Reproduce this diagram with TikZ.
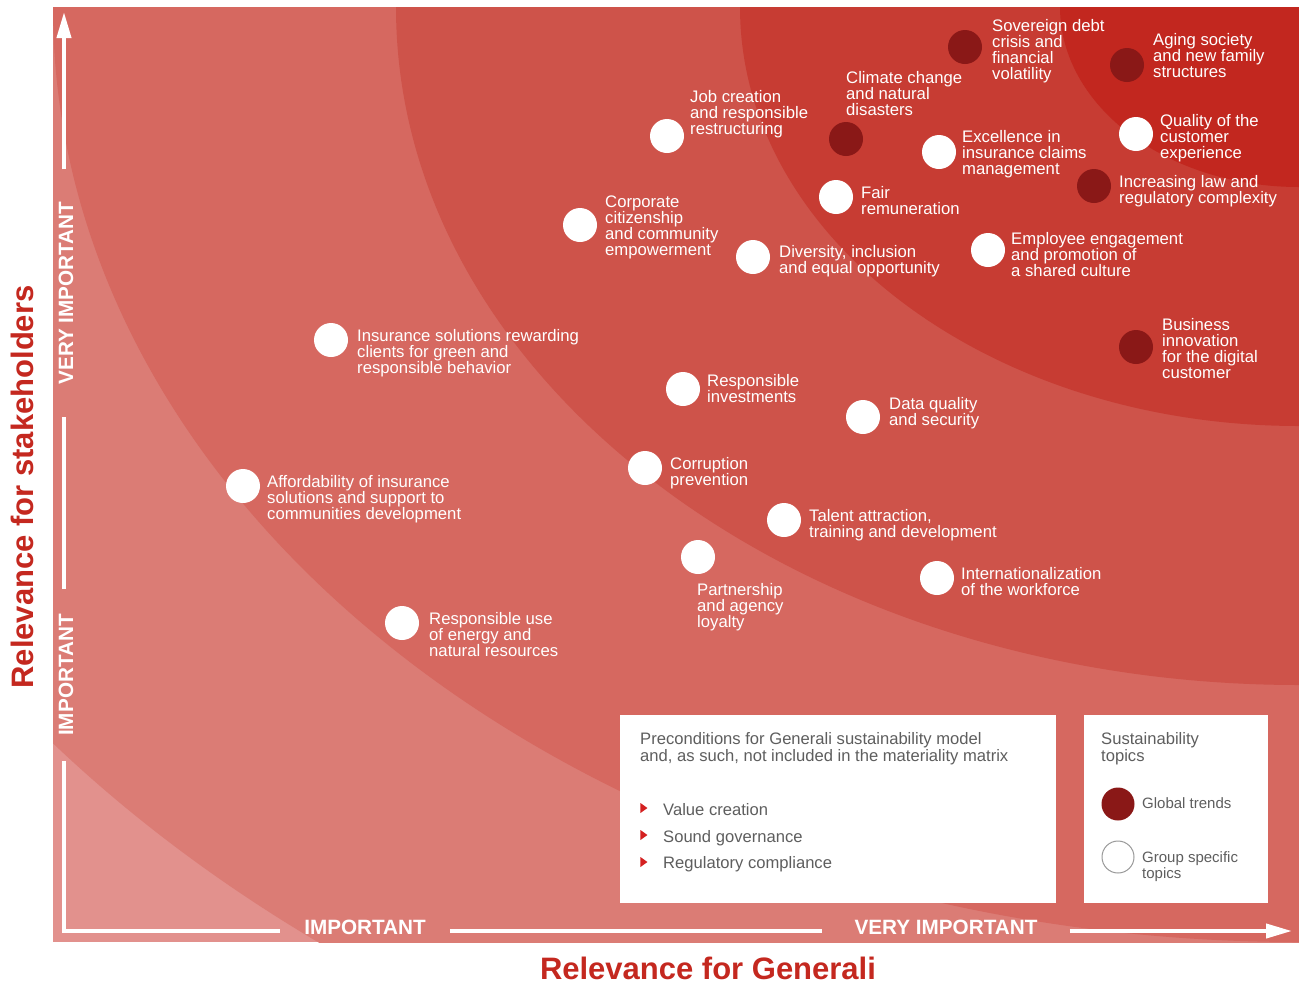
\documentclass[tikz,border=0pt]{standalone}
\usepackage{fontspec}
\setmainfont{Liberation Sans}
\usepackage{xcolor}
\usetikzlibrary{
    arrows.meta,
    shapes.geometric,
    positioning
}
\definecolor{band0}{HTML}{E2918D}
\definecolor{band1}{HTML}{DB7C75}
\definecolor{band2}{HTML}{D66860}
\definecolor{band3}{HTML}{CE534A}
\definecolor{band4}{HTML}{C73C33}
\definecolor{band5}{HTML}{C2271F}
\definecolor{trenddark}{HTML}{8A1817}
\definecolor{titlered}{HTML}{C4281F}
\definecolor{legendgray}{HTML}{5E5E5E}
\definecolor{bulletred}{HTML}{D42020}

\begin{document}
\begin{tikzpicture}[x=1pt, y=-1pt,
    topic/.style={circle, fill=white, minimum size=34pt, inner sep=0pt},
    trend/.style={topic, fill=trenddark},
    lbl/.style={text=white, align=left, inner sep=0pt, anchor=base west,
        font=\fontsize{16.7}{16}\selectfont},
    axis/.style={white, line width=4pt},
    tip/.style={-{Triangle[length=26pt, width=14pt]}},
    axlbl/.style={text=white, inner sep=0pt, font=\fontsize{20.7}{24}\selectfont\bfseries},
    title/.style={text=titlered, inner sep=0pt, font=\fontsize{31}{36}\selectfont\bfseries},
    box/.style={fill=white, inner sep=0pt, anchor=north west},
    boxtxt/.style={text=legendgray, align=left, inner sep=0pt, anchor=base west,
        font=\fontsize{16.6}{17}\selectfont},
    bullet/.style={isosceles triangle, isosceles triangle stretches, fill=bulletred,
        minimum width=10pt, minimum height=7pt, inner sep=0pt}]
    \useasboundingbox (0,0) rectangle (1299,986);

    % bands of relevance
    \fill[band0] (53,7) rectangle (1299,942);
    \begin{scope}
        \clip (53,7) rectangle (1299,942);
        \fill[band1] (1299,7) ellipse [x radius=1586, y radius=1190];
        \fill[band2] (1299,7) ellipse [x radius=1246, y radius=935];
        \fill[band3] (1299,7) ellipse [x radius=903, y radius=678];
        \fill[band4] (1299,7) ellipse [x radius=559, y radius=419];
        \fill[band5] (1299,7) ellipse [x radius=239, y radius=180];
    \end{scope}

    % axes
    \coordinate (o) at (64,931);
    \coordinate (ytop) at (64,12);
    \coordinate (xend) at (1292,931);
    \node[axlbl, inner xsep=24pt] (ximp) at (365,927) {IMPORTANT};
    \node[axlbl, inner xsep=32pt] (xvimp) at (946,927) {VERY IMPORTANT};
    \node[axlbl, inner xsep=25pt, rotate=90] (yimp) at (66,675) {IMPORTANT};
    \node[axlbl, inner xsep=32pt, rotate=90] (yvimp) at (66,293) {VERY IMPORTANT};
    \draw[axis] (o |- yimp.west) -- (o) -- (ximp.west |- o);
    \draw[axis] (ximp.east |- o) -- (xvimp.west |- o);
    \draw[axis, tip] (xvimp.east |- o) -- (xend);
    \draw[axis] (o |- yimp.east) -- (o |- yvimp.west);
    \draw[axis, tip] (o |- yvimp.east) -- (ytop);

    \node[title] (xtitle) at (708,968) {Relevance for Generali};
    \node[title, rotate=90] (ytitle) at (22,487) {Relevance for stakeholders};

    % topics (labels sit on the baseline of their last line)
    \node[trend] (sov) at (965,47) {};
    \node[lbl] at (992,79) {Sovereign debt\\crisis and\\financial\\volatility};
    \node[trend] (aging) at (1127,65) {};
    \node[lbl] at (1153,77) {Aging society\\and new family\\structures};
    \node[trend] (climate) at (846,139) {};
    \node[lbl] at (846,115) {Climate change\\and natural\\disasters};
    \node[topic] (job) at (667,136) {};
    \node[lbl] at (690,134) {Job creation\\and responsible\\restructuring};
    \node[topic] (claims) at (939,152) {};
    \node[lbl] at (962,174) {Excellence in\\insurance claims\\management};
    \node[topic] (quality) at (1136,134) {};
    \node[lbl] at (1160,158) {Quality of the\\customer\\experience};
    \node[trend] (law) at (1094,186) {};
    \node[lbl] at (1119,203) {Increasing law and\\regulatory complexity};
    \node[topic] (fair) at (836,197) {};
    \node[lbl] at (861,214) {Fair\\remuneration};
    \node[topic] (corp) at (580,225) {};
    \node[lbl] at (605,255) {Corporate\\citizenship\\and community\\empowerment};
    \node[topic] (divers) at (753,257) {};
    \node[lbl] at (779,273) {Diversity, inclusion\\and equal opportunity};
    \node[topic] (engage) at (988,250) {};
    \node[lbl] at (1011,276) {Employee engagement\\and promotion of\\a shared culture};
    \node[trend] (digital) at (1136,347) {};
    \node[lbl] at (1162,378) {Business\\innovation\\for the digital\\customer};
    \node[topic] (green) at (331,340) {};
    \node[lbl] at (357,373) {Insurance solutions rewarding\\clients for green and\\responsible behavior};
    \node[topic] (invest) at (683,389) {};
    \node[lbl] at (707,402) {Responsible\\investments};
    \node[topic] (data) at (863,417) {};
    \node[lbl] at (889,425) {Data quality\\and security};
    \node[topic] (corrupt) at (645,468) {};
    \node[lbl] at (670,485) {Corruption\\prevention};
    \node[topic] (afford) at (243,486) {};
    \node[lbl] at (267,519) {Affordability of insurance\\solutions and support to\\communities development};
    \node[topic] (talent) at (784,520) {};
    \node[lbl] at (809,537) {Talent attraction,\\training and development};
    \node[topic] (agency) at (698,557) {};
    \node[lbl] at (697,627) {Partnership\\and agency\\loyalty};
    \node[topic] (intl) at (937,578) {};
    \node[lbl] at (961,595) {Internationalization\\of the workforce};
    \node[topic] (energy) at (402,623) {};
    \node[lbl] at (429,656) {Responsible use\\of energy and\\natural resources};

    % legend boxes
    \node[box, minimum width=436pt, minimum height=188pt] (precond) at (620,715) {};
    \node[boxtxt] (ptitle) at (640,761) {Preconditions for Generali sustainability model\\and, as such, not included in the materiality matrix};
    \node[bullet] (b1) at (643,808) {};
    \node[boxtxt] (value) at (663,815) {Value creation};
    \node[bullet] (b2) at (643,835) {};
    \node[boxtxt] (gov) at (663,842) {Sound governance};
    \node[bullet] (b3) at (643,862) {};
    \node[boxtxt] (comply) at (663,868) {Regulatory compliance};

    \node[box, minimum width=184pt, minimum height=188pt] (key) at (1084,715) {};
    \node[boxtxt] (ktitle) at (1101,761) {Sustainability\\topics};
    \node[trend, minimum size=33pt] (kglobal) at (1118,804) {};
    \node[boxtxt, font=\fontsize{15}{16}\selectfont] at (1142,808) {Global trends};
    \node[topic, minimum size=32pt, draw=gray!80, line width=1pt] (kgroup) at (1118,857) {};
    \node[boxtxt, font=\fontsize{15}{16}\selectfont] at (1142,878) {Group specific\\topics};
\end{tikzpicture}
\end{document}
